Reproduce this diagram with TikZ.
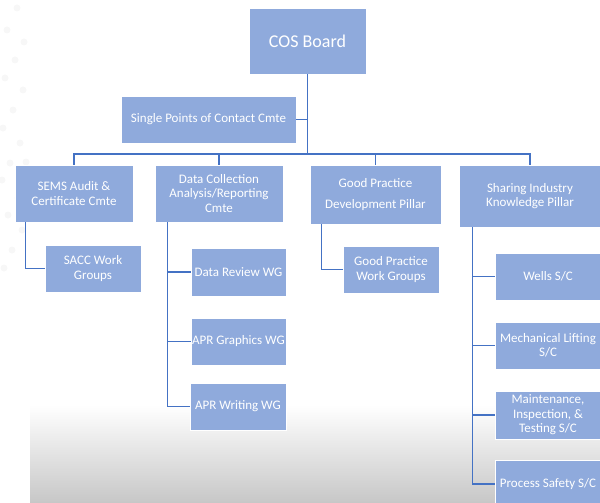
\documentclass[tikz,border=0pt]{standalone}
\usepackage{fontspec}
\setmainfont{Carlito}
\usetikzlibrary{positioning}

\definecolor{boxblue}{HTML}{8FAADC}
\definecolor{lineblue}{HTML}{4472C4}

\tikzset{
  orgbox/.style={rectangle, fill=boxblue, draw=white, line width=0.6pt,
    text=white, align=center, inner sep=1pt,
    font=\fontsize{13}{14.5}\selectfont},
  link/.style={draw=lineblue, line width=1.3pt}
}

\begin{document}
\begin{tikzpicture}[x=1pt, y=-1pt]
  \useasboundingbox (0,0) rectangle (600,503);

  % background
  \shade[top color=white, bottom color=black!22] (30,405) rectangle (600,503);
  \foreach \px/\py in {17/8,7/30,24/42,15/60,5/78,23/90,13/110,3/128,20/143,10/163,
                      2/180,26/162,18/198,8/215,22/230,12/250,4/268}
    \fill[black!3] (\px,\py) circle (3.5pt);

  \begin{scope}[every node/.style={orgbox}]
    \node (board) [minimum width=117pt, minimum height=66pt,
                   font=\fontsize{18}{20}\selectfont] at (307.5,41) {COS Board};
    \node (spoc) [minimum width=175pt, minimum height=47pt] at (208.5,119.5)
      {Single Points of Contact Cmte};

    \node (sems) [minimum width=118pt, minimum height=57pt] at (74,193.5)
      {SEMS Audit \&\\Certificate Cmte};
    \node (dca) [minimum width=128pt, minimum height=57pt] at (219,193.5)
      {Data Collection\\Analysis/Reporting\\Cmte};
    \node (gpd) [minimum width=131pt, minimum height=59pt] at (375.5,194.5)
      {Good Practice\\[6.5pt]Development Pillar};
    \node (sik) [minimum width=142pt, minimum height=62pt] at (530,196)
      {Sharing Industry\\Knowledge Pillar};

    \node (sacc) [minimum width=96pt, minimum height=47pt] at (93,268.5)
      {SACC Work\\Groups};

    \node (drwg) [minimum width=95pt, minimum height=48pt] at (238.5,272)
      {Data Review WG};
    \node (apg) [minimum width=95pt, minimum height=47pt] at (238.5,341.5)
      {APR Graphics WG};
    \node (apw) [minimum width=96pt, minimum height=47pt] at (238,406.5)
      {APR Writing WG};

    \node (gpwg) [minimum width=96pt, minimum height=47pt] at (391,269.5)
      {Good Practice\\Work Groups};

    \node (wells) [minimum width=106pt, minimum height=47pt] at (548,276.5)
      {Wells S/C};
    \node (mech) [minimum width=106pt, minimum height=47pt] at (548,345.5)
      {Mechanical Lifting\\S/C};
    \node (maint) [minimum width=106pt, minimum height=48pt] at (548,415)
      {Maintenance,\\Inspection, \&\\Testing S/C};
    \node (psafe) [minimum width=106pt, minimum height=48pt] at (548,484)
      {Process Safety S/C};
  \end{scope}

  \coordinate (bus) at (307.5,154);
  \coordinate (semsT) at ([xshift=11pt]sems.south west);
  \coordinate (dcaT) at ([xshift=13pt]dca.south west);
  \coordinate (gpdT) at ([xshift=12pt]gpd.south west);
  \coordinate (sikT) at ([xshift=14pt]sik.south west);

  \begin{scope}[every path/.style={link}]
    \path (board.south) edge (bus);
    \path (board.south |- spoc) edge (spoc.east);
    \draw (sems.north) |- (bus) -| (sik.north);
    \draw (dca.north) -- (dca.north |- bus);
    \draw (gpd.north) -- (gpd.north |- bus);

    \draw (semsT) |- (sacc.west);

    \draw (dcaT) |- (apw.west);
    \draw (dcaT |- drwg) -- (drwg.west);
    \draw (dcaT |- apg) -- (apg.west);

    \draw (gpdT) |- (gpwg.west);

    \draw (sikT) |- (psafe.west);
    \draw (sikT |- wells) -- (wells.west);
    \draw (sikT |- mech) -- (mech.west);
    \draw (sikT |- maint) -- (maint.west);
  \end{scope}
\end{tikzpicture}
\end{document}
